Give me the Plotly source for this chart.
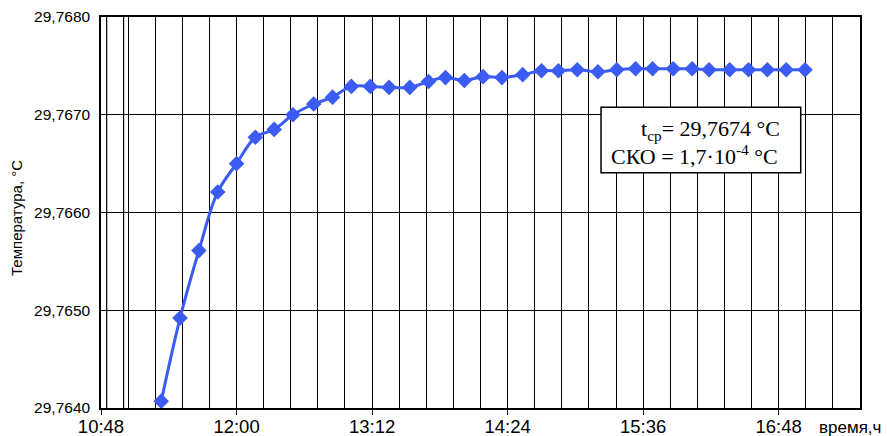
import plotly.graph_objects as go

times = ["11:20", "11:30", "11:40", "11:50", "12:00", "12:10", "12:20", "12:30", "12:41", "12:51",
         "13:01", "13:11", "13:21", "13:32", "13:42", "13:51", "14:01", "14:11", "14:21", "14:32",
         "14:42", "14:51", "15:01", "15:12", "15:22", "15:32", "15:41", "15:52", "16:02", "16:11",
         "16:22", "16:32", "16:42", "16:52", "17:02"]
temps = [29.76407, 29.76492, 29.76561, 29.76621, 29.76650, 29.76677, 29.76685, 29.76700, 29.76711, 29.76718,
         29.76729, 29.76729, 29.76728, 29.76728, 29.76734, 29.76738, 29.76735, 29.76739, 29.76738, 29.76741,
         29.76745, 29.76745, 29.76746, 29.76744, 29.76746, 29.76747, 29.76747, 29.76747, 29.76747, 29.76746,
         29.76746, 29.76746, 29.76746, 29.76746, 29.76746]
x_ticks = ["10:48", "12:00", "13:12", "14:24", "15:36", "16:48"]
y_ticks = [29.7640, 29.7650, 29.7660, 29.7670, 29.7680]

day = "2000-01-01 "
xs = [day + t for t in times]

fig = go.Figure()
fig.add_trace(go.Scatter(
    x=xs, y=temps, mode="lines+markers",
    line=dict(color="#3b5cf2", width=3, shape="spline", smoothing=1.0),
    marker=dict(symbol="diamond", size=12, color="#3b5cf2"),
    showlegend=False,
))

# scan artefact double lines near left edge
for t in ["10:51", "11:00"]:
    fig.add_shape(type="line", xref="x", yref="paper", x0=day + t, x1=day + t, y0=0, y1=1,
                  line=dict(color="black", width=1.2), layer="below")

# statistics box
fig.add_shape(type="rect", xref="paper", yref="paper", x0=0.6588, x1=0.9219, y0=0.6018, y1=0.769,
              fillcolor="white", line=dict(color="black", width=1.5), layer="above")
serif = dict(family="Liberation Serif", size=22, color="black")
fig.add_annotation(xref="paper", yref="paper", x=0.8968, y=0.711, xanchor="right", yanchor="middle",
                   text="t<sub>ср</sub>= 29,7674 °C", showarrow=False, font=serif)
fig.add_annotation(xref="paper", yref="paper", x=0.8946, y=0.648, xanchor="right", yanchor="middle",
                   text="СКО = 1,7·10<sup>-4</sup> °C", showarrow=False, font=serif)

fig.add_annotation(
    xref="paper", yref="paper", x=0.9433, y=-0.0486, xanchor="left", yanchor="middle",
    text="время,ч", showarrow=False,
    font=dict(family="Liberation Sans", size=17, color="black"),
)
fig.add_annotation(
    xref="paper", yref="paper", x=-0.1107, y=0.486, xanchor="center", yanchor="middle",
    text="Температура, °C", textangle=-90, showarrow=False,
    font=dict(family="Liberation Sans", size=15, color="black"),
)

fig.update_layout(
    width=887, height=436,
    margin=dict(l=101, r=27, t=17, b=28),
    paper_bgcolor="white", plot_bgcolor="white",
    separators=",.",
    font=dict(family="Liberation Sans", color="black"),
)
fig.update_xaxes(
    type="date", automargin=False,
    range=[day + "10:48", day + "17:31:12"],
    tickvals=[day + t for t in x_ticks],
    ticktext=x_ticks,
    ticks="outside", ticklen=5, tickcolor="black",
    ticklabelstandoff=-4,
    showgrid=True, gridcolor="black", gridwidth=1.2,
    minor=dict(dtick=864000, tick0=day + "10:48", showgrid=True, gridcolor="black", gridwidth=1.2),
    showline=True, linecolor="black", linewidth=1.5, mirror=True,
    tickfont=dict(size=18.5, color="black"),
    zeroline=False,
)
fig.update_yaxes(
    automargin=False,
    range=[29.7640, 29.7680],
    tickvals=y_ticks, tickformat=".4f",
    showgrid=True, gridcolor="black", gridwidth=1.2,
    showline=True, linecolor="black", linewidth=1.5, mirror=True,
    ticks="", ticklabelstandoff=6,
    tickfont=dict(size=15.5, color="black"),
    zeroline=False,
)

fig.write_html("out.html", config={"displayModeBar": False},
               post_script="document.body.style.margin='0';document.body.style.overflow='hidden';")
